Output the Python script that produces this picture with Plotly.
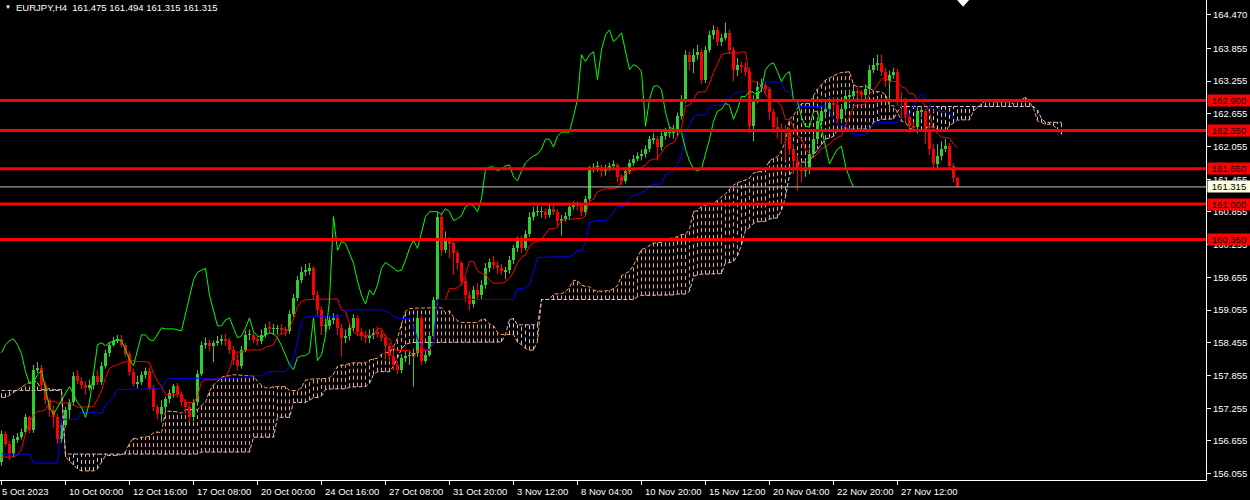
import plotly.graph_objects as go

# ---------------- data ----------------
close = [156.779, 156.597, 156.414, 156.688, 156.724, 156.815, 157.088, 156.852, 157.963, 157.999,
         157.690, 157.398, 157.216, 157.088, 156.688, 156.943, 157.216, 157.362, 157.854, 157.763,
         157.690, 157.635, 157.672, 157.854, 157.727, 158.036,
         158.273, 158.419, 158.492, 158.528, 158.419, 158.255, 157.927, 157.708, 157.727, 157.872,
         157.945, 157.635, 157.271, 157.143, 157.271, 157.417, 157.526, 157.654, 157.508, 157.362,
         157.271, 157.088, 157.362, 157.890, 158.419, 158.455, 158.401, 158.455, 158.492, 158.510,
         158.492, 158.328, 158.146, 158.036, 158.328, 158.601, 158.601, 158.510, 158.492, 158.601,
         158.729, 158.710, 158.710, 158.710, 158.692, 158.674, 158.984, 159.276, 159.604, 159.749,
         159.786, 159.822, 159.330, 159.057, 158.765, 158.765, 158.875, 158.911, 158.729, 158.547,
         158.583, 158.729, 158.911, 158.656, 158.583, 158.547, 158.601, 158.638, 158.620, 158.547,
         158.401,
         158.218, 158.054, 157.963, 158.182, 158.218, 158.218, 158.273, 158.911, 158.127, 158.237, 158.583, 159.239, 160.770,
         160.150, 160.314, 160.278, 160.096, 159.914, 159.585,
         159.330, 159.166, 159.422, 159.330, 159.512, 159.822, 159.932, 159.877, 159.822, 159.768,
         159.786, 159.968, 160.187, 160.333, 160.187, 160.460, 160.770, 160.861, 160.861, 160.861,
         160.806, 160.916, 160.861, 160.697, 160.733, 160.788, 160.952, 160.989, 160.970, 160.861,
         161.098, 161.645, 161.681, 161.681, 161.608, 161.645, 161.699, 161.718, 161.499, 161.426,
         161.608, 161.754, 161.827, 161.882, 161.918, 162.009, 162.192, 162.192, 162.046, 162.246,
         162.319, 162.319, 162.319, 162.611, 162.921, 163.741, 163.613, 163.741, 163.795, 163.285,
         163.832, 164.105, 164.196, 163.978, 164.050, 164.142, 163.832, 163.467, 163.558, 163.522,
         163.431, 162.428, 162.921, 163.157, 163.176, 163.103, 162.684, 162.410, 162.374, 162.356,
         162.319, 162.009, 161.791, 161.645, 161.608, 161.645, 161.918, 162.192, 162.520, 162.702,
         162.738, 162.848, 162.811, 162.556, 162.738, 162.975, 162.975, 163.066, 163.048, 162.993,
         163.103, 163.467, 163.558, 163.595, 163.431, 163.249, 163.376, 163.431, 162.902, 162.884,
         162.592, 162.428, 162.410, 162.702, 162.702, 162.374, 162.009, 161.736, 161.882, 162.009,
         162.064, 161.699, 161.475, 161.315]

open_ = [156.269, 156.779, 156.597, 156.414, 156.688, 156.724, 156.815, 157.088, 156.852, 157.963,
         157.999, 157.690, 157.398, 157.216, 157.088, 156.688, 156.943, 157.216, 157.362, 157.854,
         157.763, 157.690, 157.635, 157.672, 157.854, 157.727,
         158.036, 158.273, 158.419, 158.492, 158.528, 158.419, 158.255, 157.927, 157.708, 157.727,
         157.872, 157.945, 157.635, 157.271, 157.143, 157.271, 157.417, 157.526, 157.654, 157.508,
         157.362, 157.271, 157.088, 157.362, 157.890, 158.419, 158.455, 158.401, 158.455, 158.492,
         158.510, 158.492, 158.328, 158.146, 158.036, 158.328, 158.601, 158.601, 158.510, 158.492,
         158.601, 158.729, 158.710, 158.710, 158.710, 158.692, 158.674, 158.984, 159.276, 159.604,
         159.749, 159.786, 159.822, 159.330, 159.057, 158.765, 158.765, 158.875, 158.911, 158.729,
         158.547, 158.583, 158.729, 158.911, 158.656, 158.583, 158.547, 158.601, 158.638, 158.620,
         158.547,
         158.401, 158.218, 158.054, 157.963, 158.182, 158.218, 158.218, 158.273, 158.911, 158.127, 158.237, 158.583, 159.239,
         160.770, 160.150, 160.314, 160.278, 160.096, 159.914,
         159.585, 159.330, 159.166, 159.422, 159.330, 159.512, 159.822, 159.932, 159.877, 159.822,
         159.768, 159.786, 159.968, 160.187, 160.333, 160.187, 160.460, 160.770, 160.861, 160.861,
         160.861, 160.806, 160.916, 160.861, 160.697, 160.733, 160.788, 160.952, 160.989, 160.970,
         160.861, 161.098, 161.645, 161.681, 161.681, 161.608, 161.645, 161.699, 161.718, 161.499,
         161.426, 161.608, 161.754, 161.827, 161.882, 161.918, 162.009, 162.192, 162.192, 162.046,
         162.246, 162.319, 162.319, 162.319, 162.611, 162.921, 163.741, 163.613, 163.741, 163.795,
         163.285, 163.832, 164.105, 164.196, 163.978, 164.050, 164.142, 163.832, 163.467, 163.558,
         163.522, 163.431, 162.428, 162.921, 163.157, 163.176, 163.103, 162.684, 162.410, 162.374,
         162.356, 162.319, 162.009, 161.791, 161.645, 161.608, 161.645, 161.918, 162.192, 162.520,
         162.702, 162.738, 162.848, 162.811, 162.556, 162.738, 162.975, 162.975, 163.066, 163.048,
         162.993, 163.103, 163.467, 163.558, 163.595, 163.431, 163.249, 163.376, 163.431, 162.902,
         162.884, 162.592, 162.428, 162.410, 162.702, 162.702, 162.374, 162.009, 161.736, 161.882,
         162.009, 162.064, 161.699, 161.475]

high = [156.85, 156.83, 156.65, 156.76, 156.80, 156.88, 157.15, 157.12, 158.05, 158.10,
        158.05, 157.75, 157.45, 157.30, 157.15, 157.00, 157.28, 157.42, 157.92, 157.95,
        157.82, 157.75, 157.78, 157.90, 157.95, 158.10,
        158.33, 158.47, 158.56, 158.60, 158.60, 158.45, 158.30, 157.98, 157.85, 157.93,
        158.00, 158.00, 157.68, 157.32, 157.40, 157.47, 157.60, 157.70, 157.72, 157.56,
        157.42, 157.33, 157.42, 157.95, 158.48, 158.55, 158.52, 158.50, 158.58, 158.60,
        158.62, 158.55, 158.40, 158.25, 158.40, 158.68, 158.70, 158.66, 158.58, 158.70,
        158.80, 158.85, 158.80, 158.78, 158.80, 158.75, 159.05, 159.35, 159.68, 159.85,
        159.90, 159.92, 159.86, 159.40, 159.12, 158.90, 158.95, 159.00, 158.98, 158.80,
        158.70, 158.82, 158.98, 158.96, 158.72, 158.68, 158.70, 158.72, 158.75, 158.70,
        158.62,
        158.45, 158.30, 158.12, 158.25, 158.30, 158.30, 158.35, 158.98, 158.95, 158.30, 158.65, 159.30, 160.85,
        160.85, 160.50, 160.40, 160.38, 160.15, 159.95,
        159.65, 159.40, 159.50, 159.55, 159.60, 159.92, 160.00, 160.05, 159.95, 159.90,
        159.85, 160.05, 160.25, 160.40, 160.42, 160.52, 160.85, 160.95, 161.00, 160.95,
        160.92, 161.00, 160.98, 160.90, 160.80, 160.85, 161.02, 161.05, 161.05, 161.02,
        161.15, 161.70, 161.75, 161.78, 161.72, 161.72, 161.76, 161.80, 161.75, 161.55,
        161.68, 161.82, 161.90, 161.95, 162.00, 162.08, 162.25, 162.30, 162.25, 162.32,
        162.40, 162.42, 162.45, 162.68, 163.00, 163.82, 163.80, 163.85, 163.92, 163.85,
        163.90, 164.18, 164.28, 164.25, 164.12, 164.33, 164.20, 163.88, 163.68, 163.62,
        163.60, 163.50, 163.00, 163.25, 163.30, 163.25, 163.15, 162.75, 162.60, 162.48,
        162.45, 162.40, 162.10, 161.90, 161.75, 161.80, 162.00, 162.28, 162.60, 162.78,
        162.85, 162.95, 162.95, 162.88, 162.82, 163.05, 163.10, 163.15, 163.15, 163.10,
        163.20, 163.55, 163.68, 163.74, 163.75, 163.50, 163.45, 163.50, 163.48, 163.05,
        162.95, 162.65, 162.50, 162.78, 162.80, 162.75, 162.45, 162.10, 162.10, 162.15,
        162.20, 162.12, 161.75, 161.494]

low = [156.20, 156.55, 156.30, 156.36, 156.62, 156.68, 156.78, 156.80, 156.80, 157.90,
       157.62, 157.33, 157.10, 156.90, 156.60, 156.62, 156.90, 157.05, 157.30, 157.70,
       157.60, 157.50, 157.58, 157.60, 157.68, 157.68,
       157.98, 158.20, 158.38, 158.45, 158.37, 158.20, 157.85, 157.65, 157.62, 157.68,
       157.80, 157.58, 157.20, 157.05, 157.00, 157.20, 157.35, 157.45, 157.45, 157.30,
       157.15, 157.00, 157.02, 157.30, 157.85, 158.35, 158.30, 158.10, 158.40, 158.42,
       158.40, 158.25, 158.05, 157.95, 157.98, 158.28, 158.50, 158.45, 158.40, 158.43,
       158.55, 158.62, 158.60, 158.60, 158.60, 158.58, 158.62, 158.93, 159.22, 159.55,
       159.68, 159.70, 159.25, 158.95, 158.60, 158.65, 158.70, 158.80, 158.60, 158.20,
       158.45, 158.50, 158.65, 158.58, 158.50, 158.45, 158.45, 158.52, 158.55, 158.48,
       158.15,
       158.10, 157.95, 157.88, 157.90, 158.10, 158.05, 157.65, 158.20, 158.05, 158.08, 158.20, 158.55, 159.15,
       160.05, 160.10, 160.00, 159.70, 159.80, 159.50,
       159.20, 159.05, 159.10, 159.25, 159.25, 159.45, 159.75, 159.80, 159.72, 159.70,
       159.62, 159.72, 159.90, 160.12, 160.10, 160.15, 160.40, 160.70, 160.78, 160.75,
       160.72, 160.75, 160.80, 160.60, 160.42, 160.68, 160.72, 160.90, 160.88, 160.78,
       160.80, 161.05, 161.58, 161.60, 161.50, 161.52, 161.60, 161.62, 161.40, 161.35,
       161.38, 161.55, 161.70, 161.78, 161.80, 161.85, 161.95, 162.10, 161.80, 161.98,
       162.18, 162.22, 162.20, 162.25, 162.55, 162.85, 163.45, 163.40, 163.65, 163.20,
       163.22, 163.78, 164.02, 163.90, 163.90, 164.00, 163.75, 163.25, 163.35, 163.40,
       163.35, 162.30, 162.15, 162.85, 163.05, 163.00, 162.55, 162.30, 162.20, 162.10,
       161.80, 161.90, 161.55, 161.25, 161.40, 161.50, 161.55, 161.85, 162.10, 162.45,
       162.60, 162.65, 162.70, 162.48, 162.48, 162.65, 162.85, 162.90, 162.95, 162.88,
       162.90, 163.05, 163.40, 163.45, 163.35, 163.15, 162.75, 163.30, 162.80, 162.55,
       162.50, 162.30, 162.32, 162.30, 162.60, 162.10, 161.90, 161.65, 161.65, 161.80,
       161.95, 161.62, 161.40, 161.315]

# indicator values visible before enough history is on the chart
tenkan_early = [156.36, 156.36, 156.36, 156.36, 156.40, 156.50, 156.80, 157.00]
kijun_early = [156.414, 156.414, 156.414, 156.414, 156.414, 156.414, 156.414, 156.414,
               156.250, 156.250, 156.250, 156.250, 156.250, 156.250, 156.250,
               157.052, 157.052, 157.052, 157.052, 157.052,
               157.180, 157.180, 157.180, 157.180, 157.180]
span_a_early = [157.453, 157.453, 157.490, 157.544, 157.581, 157.635, 157.690, 157.727, 157.763, 157.727,
                157.599, 157.599, 157.617, 157.599, 157.599, 157.599, 156.360, 156.287, 156.214, 156.141,
                156.105, 156.105, 156.105, 156.105, 156.141, 156.269]
span_b_early = [157.581, 157.581, 157.581, 157.581, 157.581, 157.581, 157.581, 157.581,
                157.581, 157.581, 157.581, 157.581, 157.581, 157.581, 157.581, 157.581,
                156.414, 156.414, 156.414, 156.414, 156.414, 156.414, 156.414, 156.414, 156.414, 156.414,
                156.414, 156.414, 156.414, 156.414, 156.414, 156.414, 156.414, 156.414, 156.414, 156.414,
                156.414, 156.414, 156.414, 156.414, 156.414, 156.414, 156.414, 156.414, 156.414, 156.414,
                156.414, 156.414, 156.414, 156.414,
                156.451, 156.451, 156.451, 156.451, 156.451, 156.451, 156.451, 156.451, 156.451, 156.451,
                156.451, 156.451, 156.451,
                156.724, 156.724, 156.724, 156.724, 156.724, 156.724,
                157.088, 157.088, 157.088, 157.088,
                157.362, 157.362, 157.362, 157.362]

levels = [162.900, 162.350, 161.650, 161.000, 160.350]
last_price = 161.315
header_text = "EURJPY,H4\u00a0\u00a0161.475 161.494 161.315 161.315"

y_tick_vals = [164.470, 163.855, 163.255, 162.655, 162.055, 161.455, 160.855, 160.255,
               159.655, 159.055, 158.455, 157.855, 157.255, 156.655, 156.055]
x_tick_bars = [0, 16, 32, 48, 64, 80, 96, 112, 128, 144, 160, 176, 192, 208, 224]
x_tick_labels = ["5 Oct 2023", "10 Oct 00:00", "12 Oct 16:00", "17 Oct 08:00", "20 Oct 00:00",
                 "24 Oct 16:00", "27 Oct 08:00", "31 Oct 20:00", "3 Nov 12:00", "8 Nov 04:00",
                 "10 Nov 20:00", "15 Nov 12:00", "20 Nov 04:00", "22 Nov 20:00", "27 Nov 12:00"]

# ---------------- Ichimoku (9, 26, 52) ----------------
n = len(close)
tenkan, kijun = [], []
for i in range(n):
    if i < 8:
        tenkan.append(tenkan_early[i])
    else:
        tenkan.append((max(high[i - 8:i + 1]) + min(low[i - 8:i + 1])) / 2)
    if i < 25:
        kijun.append(kijun_early[i])
    else:
        kijun.append((max(high[i - 25:i + 1]) + min(low[i - 25:i + 1])) / 2)
span_a, span_b = [], []
for d in range(n + 26):
    s = d - 26
    span_a.append(span_a_early[d] if d < 26 else (tenkan[s] + kijun[s]) / 2)
    if d < 77:
        span_b.append(span_b_early[d])
    else:
        span_b.append((max(high[s - 51:s + 1]) + min(low[s - 51:s + 1])) / 2)

# ---------------- styling ----------------
BG = "#000000"
UP = "#32CD32"
DN = "#FF0000"
FONT = "Liberation Sans"
AX = "#FFFFFF"
Y_RANGE = [155.938, 164.744]
X_RANGE = [-0.375, 301.125]

fig = go.Figure()

# cloud hatch
hx_a, hy_a, hx_b, hy_b = [], [], [], []
for d in range(n + 26):
    a, b = span_a[d], span_b[d]
    if a >= b:
        hx_a += [d, d, None]; hy_a += [b, a, None]
    else:
        hx_b += [d, d, None]; hy_b += [a, b, None]
fig.add_trace(go.Scatter(x=hx_a, y=hy_a, mode="lines", line=dict(color="#F4A460", width=1, dash="4px,3px"),
                         hoverinfo="skip"))
fig.add_trace(go.Scatter(x=hx_b, y=hy_b, mode="lines", line=dict(color="#D8BFD8", width=1, dash="4px,3px"),
                         hoverinfo="skip"))
fig.add_trace(go.Scatter(x=list(range(n + 26)), y=span_a, mode="lines",
                         line=dict(color="#F4A460", width=1, dash="4px,2px"), hoverinfo="skip"))
fig.add_trace(go.Scatter(x=list(range(n + 26)), y=span_b, mode="lines",
                         line=dict(color="#D8BFD8", width=1, dash="4px,2px"), hoverinfo="skip"))

# candle bodies
xs = list(range(n))
base = [min(o, c) for o, c in zip(open_, close)]
hgt = [max(abs(c - o), 0.012) for o, c in zip(open_, close)]
cols = [UP if c >= o else DN for o, c in zip(open_, close)]
fig.add_trace(go.Bar(x=xs, y=hgt, base=base, width=0.75, marker=dict(color=cols, line=dict(width=0)),
                     hoverinfo="skip"))
# wicks
wx_u, wy_u, wx_d, wy_d = [], [], [], []
for i in range(n):
    if close[i] >= open_[i]:
        wx_u += [i, i, None]; wy_u += [low[i], high[i], None]
    else:
        wx_d += [i, i, None]; wy_d += [low[i], high[i], None]
fig.add_trace(go.Scatter(x=wx_u, y=wy_u, mode="lines", line=dict(color=UP, width=1), hoverinfo="skip"))
fig.add_trace(go.Scatter(x=wx_d, y=wy_d, mode="lines", line=dict(color=DN, width=1), hoverinfo="skip"))

# tenkan, kijun, chikou
fig.add_trace(go.Scatter(x=xs, y=tenkan, mode="lines", line=dict(color="#FF0000", width=1), hoverinfo="skip"))
fig.add_trace(go.Scatter(x=xs, y=kijun, mode="lines", line=dict(color="#0000FF", width=1), hoverinfo="skip"))
fig.add_trace(go.Scatter(x=list(range(n - 26)), y=close[26:], mode="lines",
                         line=dict(color="#00FF00", width=1), hoverinfo="skip"))

shapes = []
for lv in levels:
    shapes.append(dict(type="line", xref="paper", x0=0, x1=1, yref="y", y0=lv, y1=lv,
                       line=dict(color="#FF0000", width=3)))
shapes.append(dict(type="line", xref="paper", x0=0, x1=1, yref="y", y0=last_price, y1=last_price,
                   line=dict(color="#C0C0C0", width=1)))
# chart-shift marker at the top
shapes.append(dict(type="path", xref="x", yref="paper",
                   path="M 238.9,1 L 241.9,1 L 240.4,0.986 Z", fillcolor="#FFFFFF", line=dict(width=0)))

annotations = []
for lv in levels:
    annotations.append(dict(xref="paper", x=1, xanchor="left", xshift=1, yref="y", y=lv, yanchor="middle",
                            text=f"{lv:.3f}", showarrow=False, bgcolor="#FF0000", width=42, height=11,
                            borderpad=0, align="center", font=dict(family=FONT, size=9.5, color="#000000")))
annotations.append(dict(xref="paper", x=1, xanchor="left", xshift=1, yref="y", y=last_price, yanchor="middle",
                        text=f"{last_price:.3f}", showarrow=False, bgcolor="#FFFFE0", width=42, height=11,
                        borderpad=0, align="center", font=dict(family=FONT, size=9.5, color="#000000")))
for b, t in zip(x_tick_bars, x_tick_labels):
    annotations.append(dict(xref="x", x=b, xanchor="left", xshift=(-2 if b == 0 else 1),
                            yref="paper", y=0, yanchor="middle", yshift=-11, text=t, showarrow=False,
                            font=dict(family=FONT, size=9.5, color=AX)))
annotations.append(dict(xref="paper", x=0, xanchor="left", xshift=3, yref="paper", y=1, yanchor="top", yshift=-2,
                        text="\u25BC", showarrow=False, font=dict(family=FONT, size=6, color=AX)))
annotations.append(dict(xref="paper", x=0, xanchor="left", xshift=14, yref="paper", y=1, yanchor="top", yshift=0,
                        text=header_text, showarrow=False, font=dict(family=FONT, size=9.5, color=AX)))

fig.update_layout(
    width=1250, height=500,
    margin=dict(l=0, r=44, t=0, b=20, pad=0),
    paper_bgcolor=BG, plot_bgcolor=BG,
    showlegend=False, bargap=0,
    shapes=shapes, annotations=annotations,
    xaxis=dict(range=X_RANGE, showgrid=False, zeroline=False, showline=True, linecolor=AX, linewidth=1,
               ticks="outside", ticklen=4, tickcolor=AX, tickvals=x_tick_bars, showticklabels=False,
               fixedrange=True),
    yaxis=dict(range=Y_RANGE, side="right", showgrid=False, zeroline=False, showline=True, linecolor=AX,
               linewidth=1, ticks="outside", ticklen=4, tickcolor=AX, tickvals=y_tick_vals,
               ticktext=[f"{v:.3f}" for v in y_tick_vals],
               tickfont=dict(family=FONT, size=9.5, color=AX), fixedrange=True),
)

fig.write_html("out.html", config={"displayModeBar": False},
               post_script="document.body.style.margin='0px';document.body.style.overflow='hidden';"
                           "document.body.style.background='#000';")
